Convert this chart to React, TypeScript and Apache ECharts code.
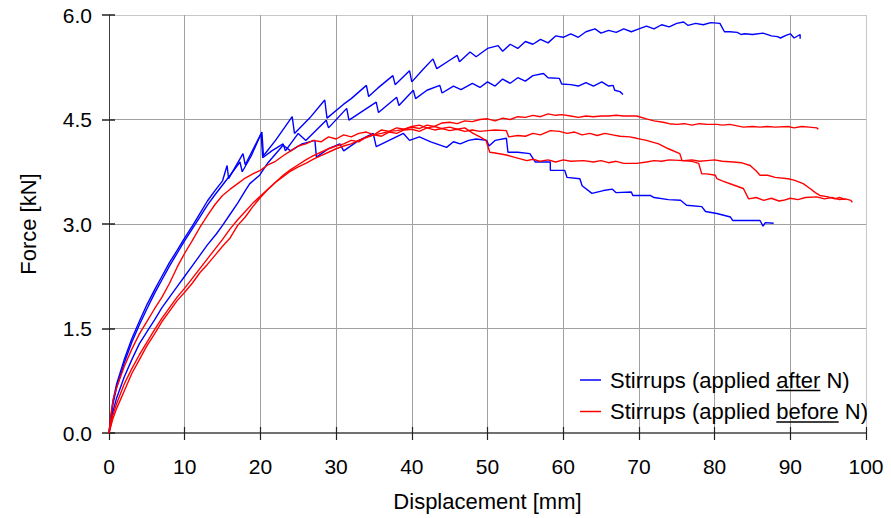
import React, { useEffect, useRef } from "react";
import * as echarts from "echarts";

const xTicks = [0, 10, 20, 30, 40, 50, 60, 70, 80, 90, 100];
const yTicks = [0, 1.5, 3.0, 4.5, 6.0];
const legendAfter = "Stirrups (applied after N)";
const legendBefore = "Stirrups (applied before N)";

const blue1: number[][] = [[0,0],[0.5,0.45],[1,0.7],[2,1.05],[3,1.35],[4,1.6],[5,1.84],[6,2.05],[7,2.25],[8,2.45],[9,2.62],[10,2.8],[11,2.97],[12,3.15],[13,3.33],[14,3.48],[15,3.62],[15.6,3.84],[15.8,3.65],[17.7,4.01],[18,3.85],[20.2,4.32],[20.4,3.98],[22,4.2],[24.2,4.54],[24.5,4.3],[26.5,4.52],[28.5,4.78],[28.8,4.52],[31,4.72],[32,4.8],[34,4.99],[34.3,4.83],[35.5,4.95],[37.5,5.13],[37.8,5.0],[39.7,5.2],[40,5.04],[41.5,5.22],[42.8,5.37],[43.3,5.23],[45,5.35],[46,5.42],[46.3,5.33],[47.7,5.47],[48.5,5.4],[50,5.52],[51.4,5.56],[52,5.48],[53,5.58],[54,5.52],[55,5.62],[56,5.58],[57,5.65],[58,5.6],[59,5.7],[60,5.68],[61,5.73],[62,5.68],[63,5.76],[64.2,5.8],[65,5.74],[66,5.78],[67,5.75],[68,5.8],[69,5.76],[70,5.8],[71,5.84],[72,5.8],[73,5.86],[74,5.83],[75,5.88],[75.9,5.9],[76.5,5.85],[77.5,5.88],[78.5,5.86],[79.5,5.89],[80.7,5.88],[81.3,5.76],[82,5.76],[83,5.75],[83.5,5.72],[84,5.73],[85,5.72],[86.4,5.74],[87.5,5.7],[88.3,5.69],[88.7,5.67],[89.5,5.71],[90,5.73],[90.5,5.67],[91.3,5.72],[91.3,5.66]];

const blue2: number[][] = [[0,0],[0.5,0.4],[1,0.65],[2,1.0],[3,1.3],[4,1.55],[5,1.78],[6,2.0],[7,2.2],[8,2.4],[9,2.58],[10,2.76],[11,2.93],[12,3.1],[13,3.27],[14,3.42],[15,3.56],[16,3.7],[17.3,3.89],[17.6,3.75],[18.8,3.98],[20.1,4.3],[20.3,3.95],[21.5,4.05],[23,4.15],[23.3,4.05],[25,4.3],[26,4.2],[28.7,4.49],[29,4.38],[31.4,4.66],[31.7,4.49],[33.5,4.62],[35.3,4.75],[35.6,4.6],[38,4.82],[38.3,4.7],[40.2,4.92],[40.5,4.8],[42,4.92],[43.7,4.99],[44,4.88],[45.5,4.98],[46.5,4.93],[48,5.02],[49,4.96],[50,5.04],[51,4.98],[52,5.08],[53,5.02],[54,5.1],[55,5.05],[56,5.13],[57.4,5.16],[58,5.1],[59.5,5.09],[59.8,5.01],[61,5.0],[62,4.98],[63,5.03],[64,4.98],[65.1,5.04],[66,4.98],[66.6,4.99],[66.8,4.92],[67.5,4.9],[67.9,4.86]];

const blue3: number[][] = [[0,0],[0.5,0.3],[1,0.5],[2,0.8],[3,1.05],[4,1.28],[5,1.45],[6,1.62],[7,1.8],[8,1.95],[9,2.1],[10,2.25],[11,2.4],[12,2.55],[13,2.7],[14.2,2.86],[15,2.98],[16,3.14],[17,3.3],[18,3.48],[18.6,3.58],[19.9,3.7],[21,3.88],[23,4.13],[24,4.05],[25.5,4.15],[27.2,4.2],[27.4,3.96],[29,4.08],[30.5,4.15],[31,4.05],[33,4.2],[34.9,4.3],[35.3,4.11],[37,4.2],[38.9,4.3],[39.7,4.2],[41,4.25],[42.5,4.18],[44.6,4.1],[45.5,4.18],[46.4,4.15],[47.5,4.2],[48.5,4.22],[49.9,4.2],[50.2,4.12],[51,4.2],[52.5,4.23],[52.7,4.03],[54,4.03],[55.6,4.01],[56.3,3.89],[58.3,3.89],[58.3,3.77],[60.2,3.77],[60.5,3.67],[62.2,3.65],[62.5,3.55],[63.8,3.44],[65.3,3.48],[66.5,3.5],[67,3.45],[69,3.46],[69.2,3.41],[71.5,3.41],[72,3.38],[73.9,3.35],[75.5,3.34],[76.3,3.27],[78.3,3.25],[78.8,3.18],[80.3,3.15],[82.1,3.1],[82.4,3.05],[84.3,3.05],[86,3.05],[86.4,2.97],[86.7,3.02],[87.8,3.01]];

const red1: number[][] = [[0,0],[0.5,0.2],[1,0.35],[2,0.6],[3,0.85],[4,1.05],[5,1.25],[6,1.42],[7,1.6],[8,1.75],[9,1.9],[10,2.02],[11,2.15],[12,2.3],[13,2.42],[14,2.55],[15,2.68],[16,2.8],[17,2.98],[18,3.1],[19,3.25],[20,3.38],[21,3.5],[22,3.6],[23,3.68],[24,3.76],[25,3.82],[26,3.87],[27,3.93],[28,3.98],[29,4.03],[30,4.08],[31,4.12],[32,4.15],[33,4.2],[34,4.24],[35,4.28],[36,4.3],[37,4.33],[38,4.34],[39,4.36],[40,4.39],[41,4.37],[42,4.42],[43,4.4],[44,4.45],[45,4.46],[46,4.44],[47,4.48],[48,4.47],[49,4.5],[50,4.51],[51,4.48],[52,4.52],[53,4.5],[54,4.54],[55,4.53],[56,4.56],[57,4.54],[58,4.58],[59,4.56],[59.8,4.57],[61,4.55],[62,4.53],[63,4.55],[64,4.54],[65,4.55],[66,4.55],[67,4.56],[68,4.55],[69.7,4.55],[71,4.51],[72,4.48],[73.2,4.46],[74,4.44],[75,4.43],[76,4.44],[77,4.42],[78,4.44],[79,4.43],[80.3,4.43],[81,4.42],[82,4.43],[83.8,4.39],[85,4.4],[86,4.39],[87,4.4],[88,4.39],[89.7,4.4],[90.5,4.38],[91.5,4.4],[92.5,4.39],[93.5,4.38],[93.7,4.36]];

const red2: number[][] = [[0,0],[0.5,0.25],[1,0.42],[2,0.7],[3,0.92],[4,1.12],[5,1.3],[6,1.48],[7,1.65],[8,1.8],[9,1.95],[10,2.08],[11,2.22],[12,2.36],[13,2.5],[14,2.64],[15,2.78],[16,2.93],[17,3.06],[18,3.18],[19,3.3],[20,3.4],[21,3.5],[22,3.6],[23,3.7],[24,3.78],[25,3.85],[26,3.92],[27,3.98],[28,4.03],[29,4.08],[30,4.12],[31,4.15],[32,4.2],[33,4.18],[34,4.25],[35,4.28],[36,4.26],[37,4.32],[38,4.3],[39,4.35],[40,4.36],[41,4.33],[42,4.38],[43,4.35],[44,4.37],[45,4.34],[46,4.36],[47,4.33],[48,4.35],[49,4.33],[50,4.34],[51,4.35],[52.5,4.34],[52.8,4.25],[54,4.27],[55,4.26],[56,4.3],[57,4.28],[58.3,4.34],[59.5,4.33],[60.5,4.3],[61.5,4.32],[62.5,4.28],[63.5,4.3],[64.5,4.27],[65.5,4.3],[66.5,4.28],[67.5,4.26],[68.8,4.25],[69.7,4.23],[71,4.2],[72.6,4.15],[73.9,4.08],[75.4,4.01],[75.7,3.91],[77,3.9],[77.9,3.87],[78.3,3.72],[79,3.72],[80.1,3.7],[80.3,3.65],[81,3.62],[82.5,3.56],[83.8,3.51],[84.5,3.36],[85.5,3.38],[86.5,3.34],[87.5,3.37],[88.5,3.33],[89.1,3.34],[90,3.37],[91,3.35],[92,3.38],[93.5,3.39],[94.5,3.36],[95.5,3.38],[96.5,3.35],[97.3,3.36],[98,3.34],[98.2,3.31]];

const red3: number[][] = [[0,0],[0.3,0.3],[0.6,0.5],[1,0.65],[2,0.95],[3,1.2],[4,1.42],[5,1.6],[6,1.78],[7,1.95],[8,2.15],[9,2.38],[10,2.58],[11,2.76],[12,2.95],[13,3.12],[14,3.28],[15,3.41],[16,3.5],[17,3.58],[18,3.66],[19,3.72],[20,3.77],[21,3.85],[22,3.9],[23,3.98],[24,4.05],[25,4.12],[26,4.15],[27,4.2],[28,4.18],[29,4.25],[30,4.22],[31,4.28],[32,4.25],[33,4.3],[34,4.32],[35,4.28],[36,4.35],[37,4.33],[38,4.38],[39,4.36],[40,4.4],[41,4.42],[42,4.38],[43,4.4],[44,4.37],[45,4.39],[46,4.36],[47,4.38],[48.1,4.3],[49,4.25],[49.8,4.2],[50.3,4.03],[51,4.02],[52.5,3.99],[53.5,3.96],[55.2,3.91],[56,3.93],[57,3.9],[58,3.92],[59,3.89],[60,3.92],[61,3.9],[62.7,3.91],[64,3.89],[65,3.91],[66,3.88],[67,3.9],[68,3.87],[69.7,3.87],[71,3.89],[72,3.91],[73,3.9],[74,3.92],[75.9,3.91],[77,3.92],[78,3.9],[79,3.91],[80,3.92],[81,3.9],[82.5,3.89],[83.5,3.88],[84.7,3.84],[85.5,3.76],[86,3.7],[87,3.7],[88,3.67],[89.7,3.65],[90.5,3.63],[91.7,3.58],[92.6,3.51],[93.3,3.45],[93.9,3.41],[95,3.39],[95.9,3.36],[96.5,3.38],[97.3,3.35]];

const FONT = "'Liberation Sans', Arial, sans-serif";

export default function App() {
  const ref = useRef<HTMLDivElement>(null);
  useEffect(() => {
    document.body.style.margin = "0";
    const chart = echarts.init(ref.current!, null, { renderer: "svg" });

    const legendLeft = 580;
    const textX = legendLeft + 21 + 5 + 4;
    const row1 = 380;
    const row2 = 411.5;
    const ctx = document.createElement("canvas").getContext("2d")!;
    ctx.font = "22px 'Liberation Sans'";
    const pre = ctx.measureText("Stirrups (applied ").width;
    const wAfter = ctx.measureText("after").width;
    const wBefore = ctx.measureText("before").width;

    const gridCol = "#a0a0a0";
    const xSplit = xTicks.map((_, i) => (i === xTicks.length - 1 ? "#c8c8c8" : gridCol));
    const ySplit = yTicks.map((_, i) => (i === yTicks.length - 1 ? "#c8c8c8" : gridCol));

    const mk = (name: string, data: number[][], color: string) => ({
      type: "line",
      name,
      data,
      symbol: "none",
      showSymbol: false,
      lineStyle: { color, width: 1.4 },
      itemStyle: { color },
      xAxisIndex: 0,
      yAxisIndex: 0,
    });

    chart.setOption({
      animation: false,
      backgroundColor: "#fff",
      grid: { left: 109, right: 25, top: 15, bottom: 85 },
      legend: {
        orient: "vertical",
        left: legendLeft,
        top: row1 - 11,
        padding: 0,
        icon: "rect",
        itemWidth: 21,
        itemHeight: 1.5,
        itemGap: 9.5,
        data: [legendAfter, legendBefore],
        textStyle: { fontSize: 22, fontFamily: FONT, color: "#000", lineHeight: 22, padding: [0, 0, 0, 4] },
      },
      xAxis: [
        {
          type: "value",
          min: 0,
          max: 100,
          interval: 10,
          name: "Displacement [mm]",
          nameLocation: "middle",
          nameGap: 57,
          nameTextStyle: { fontSize: 22, fontFamily: FONT, color: "#000" },
          axisLine: { show: true, onZero: false, lineStyle: { color: "#707070", width: 2 } },
          axisTick: { show: true, inside: false, length: 7, lineStyle: { color: "#222", width: 1.2 } },
          axisLabel: { fontSize: 21, fontFamily: FONT, color: "#000", margin: 23 },
          splitLine: { show: true, lineStyle: { color: xSplit, width: 1 } },
        },
        {
          type: "value",
          min: 0,
          max: 100,
          interval: 10,
          position: "bottom",
          axisLine: { show: false },
          axisTick: { show: true, inside: true, length: 6, lineStyle: { color: "#222", width: 1.2 } },
          axisLabel: { show: false },
          splitLine: { show: false },
        },
      ],
      yAxis: [
        {
          type: "value",
          min: 0,
          max: 6,
          interval: 1.5,
          name: "Force [kN]",
          nameLocation: "middle",
          nameGap: 70,
          nameTextStyle: { fontSize: 22, fontFamily: FONT, color: "#000" },
          axisLine: { show: true, onZero: false, lineStyle: { color: "#404040", width: 1 } },
          axisTick: { show: true, inside: false, length: 7, lineStyle: { color: "#222", width: 1.5 } },
          axisLabel: {
            fontSize: 21,
            fontFamily: FONT,
            color: "#000",
            margin: 17,
            formatter: (v: number) => v.toFixed(1),
          },
          splitLine: { show: true, lineStyle: { color: ySplit, width: 1 } },
        },
        {
          type: "value",
          min: 0,
          max: 6,
          interval: 1.5,
          position: "left",
          axisLine: { show: false },
          axisTick: { show: true, inside: true, length: 6, lineStyle: { color: "#222", width: 1.5 } },
          axisLabel: { show: false },
          splitLine: { show: false },
        },
      ],
      graphic: [
        {
          type: "line",
          shape: { x1: textX + pre, y1: row1 + 10.5, x2: textX + pre + wAfter, y2: row1 + 10.5 },
          style: { stroke: "#000", lineWidth: 1.5 },
          z: 100,
        },
        {
          type: "line",
          shape: { x1: textX + pre, y1: row2 + 10.5, x2: textX + pre + wBefore, y2: row2 + 10.5 },
          style: { stroke: "#000", lineWidth: 1.5 },
          z: 100,
        },
      ],
      series: [
        mk(legendAfter, blue1, "#0000ff"),
        mk(legendAfter, blue2, "#0000ff"),
        mk(legendAfter, blue3, "#0000ff"),
        mk(legendBefore, red1, "#ff0000"),
        mk(legendBefore, red2, "#ff0000"),
        mk(legendBefore, red3, "#ff0000"),
      ],
    });
    return () => chart.dispose();
  }, []);
  return <div ref={ref} style={{ width: 891, height: 518 }} />;
}
